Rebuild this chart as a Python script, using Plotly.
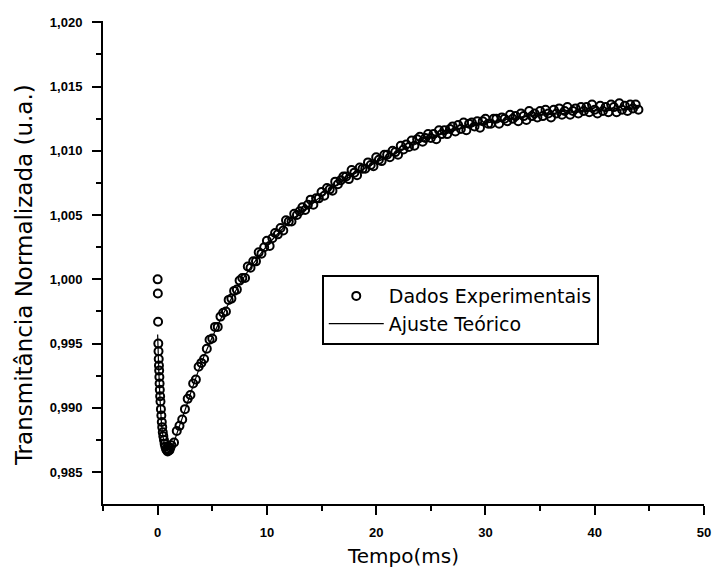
import plotly.graph_objects as go

# Experimental data (time in ms, normalized transmittance)
t_exp = [0.00, 0.02, 0.04, 0.06, 0.08, 0.10, 0.12, 0.14, 0.16, 0.18, 0.20, 0.23, 0.26,
         0.30, 0.34, 0.38, 0.42, 0.47, 0.52, 0.58, 0.64, 0.70, 0.77, 0.84, 0.92, 1.00, 1.08, 1.16,
         1.25, 1.50, 1.75, 2.00, 2.25, 2.50, 2.75, 3.00,
         3.25, 3.50, 3.75, 4.00, 4.25, 4.50, 4.75, 5.00,
         5.25, 5.50, 5.75, 6.00, 6.25, 6.50, 6.75, 7.00,
         7.25, 7.50, 7.75, 8.00, 8.25, 8.50, 8.75, 9.00,
         9.25, 9.50, 9.75, 10.00, 10.25, 10.50, 10.75, 11.00,
         11.25, 11.50, 11.75, 12.00, 12.25, 12.50, 12.75, 13.00,
         13.25, 13.50, 13.75, 14.00, 14.25, 14.50, 14.75, 15.00,
         15.25, 15.50, 15.75, 16.00, 16.25, 16.50, 16.75, 17.00,
         17.25, 17.50, 17.75, 18.00, 18.25, 18.50, 18.75, 19.00,
         19.25, 19.50, 19.75, 20.00, 20.25, 20.50, 20.75, 21.00,
         21.25, 21.50, 21.75, 22.00, 22.25, 22.50, 22.75, 23.00,
         23.25, 23.50, 23.75, 24.00, 24.25, 24.50, 24.75, 25.00,
         25.25, 25.50, 25.75, 26.00, 26.25, 26.50, 26.75, 27.00,
         27.25, 27.50, 27.75, 28.00, 28.25, 28.50, 28.75, 29.00,
         29.25, 29.50, 29.75, 30.00, 30.25, 30.50, 30.75, 31.00,
         31.25, 31.50, 31.75, 32.00, 32.25, 32.50, 32.75, 33.00,
         33.25, 33.50, 33.75, 34.00, 34.25, 34.50, 34.75, 35.00,
         35.25, 35.50, 35.75, 36.00, 36.25, 36.50, 36.75, 37.00,
         37.25, 37.50, 37.75, 38.00, 38.25, 38.50, 38.75, 39.00,
         39.25, 39.50, 39.75, 40.00, 40.25, 40.50, 40.75, 41.00,
         41.25, 41.50, 41.75, 42.00, 42.25, 42.50, 42.75, 43.00,
         43.25, 43.50, 43.75, 44.00]
y_exp = [1.0000, 0.9989, 0.9967, 0.9950, 0.9944, 0.9938, 0.9933, 0.9929, 0.9924, 0.9919,
         0.9914, 0.9909, 0.9905, 0.9899, 0.9894, 0.9889, 0.9885, 0.9881, 0.9878, 0.9875,
         0.9872, 0.9870, 0.9868, 0.9867, 0.9866, 0.9867, 0.9867, 0.9869,
         0.9871, 0.9873, 0.9882, 0.9886, 0.9891, 0.9899, 0.9907, 0.9910,
         0.9919, 0.9922, 0.9932, 0.9935, 0.9938, 0.9946, 0.9953, 0.9954,
         0.9963, 0.9963, 0.9971, 0.9974, 0.9975, 0.9984, 0.9985, 0.9991,
         0.9992, 0.9999, 1.0001, 1.0001, 1.0010, 1.0009, 1.0014, 1.0014,
         1.0021, 1.0020, 1.0025, 1.0030, 1.0026, 1.0032, 1.0036, 1.0035,
         1.0040, 1.0038, 1.0046, 1.0045, 1.0045, 1.0051, 1.0050, 1.0053,
         1.0056, 1.0054, 1.0058, 1.0062, 1.0058, 1.0063, 1.0063, 1.0068,
         1.0065, 1.0071, 1.0070, 1.0069, 1.0076, 1.0074, 1.0077, 1.0080,
         1.0080, 1.0078, 1.0085, 1.0083, 1.0081, 1.0087, 1.0086, 1.0086,
         1.0091, 1.0089, 1.0088, 1.0095, 1.0093, 1.0092, 1.0097, 1.0097,
         1.0095, 1.0100, 1.0099, 1.0097, 1.0104, 1.0101, 1.0105, 1.0103,
         1.0108, 1.0104, 1.0109, 1.0111, 1.0107, 1.0110, 1.0113, 1.0110,
         1.0113, 1.0109, 1.0116, 1.0113, 1.0116, 1.0113, 1.0117, 1.0119,
         1.0115, 1.0120, 1.0117, 1.0122, 1.0116, 1.0121, 1.0122, 1.0119,
         1.0123, 1.0118, 1.0123, 1.0125, 1.0121, 1.0121, 1.0125, 1.0125,
         1.0121, 1.0126, 1.0125, 1.0123, 1.0128, 1.0125, 1.0127, 1.0123,
         1.0129, 1.0127, 1.0124, 1.0131, 1.0127, 1.0129, 1.0126, 1.0131,
         1.0127, 1.0132, 1.0129, 1.0126, 1.0132, 1.0129, 1.0133, 1.0128,
         1.0131, 1.0134, 1.0128, 1.0131, 1.0133, 1.0129, 1.0134, 1.0131,
         1.0134, 1.0130, 1.0136, 1.0132, 1.0129, 1.0135, 1.0131, 1.0134,
         1.0130, 1.0136, 1.0134, 1.0130, 1.0137, 1.0132, 1.0135, 1.0131,
         1.0136, 1.0133, 1.0136, 1.0132]

# Theoretical fit curve
t_fit = [0, 0.1, 0.2, 0.3, 0.4, 0.6, 0.8, 1.0, 1.3, 1.6, 2, 2.5, 3, 4, 5, 6, 7, 8, 9, 10,
         12, 14, 16, 18, 20, 22, 25, 28, 31, 34, 37, 40, 43, 44]
y_fit = [0.9957, 0.9930, 0.9910, 0.9895, 0.9884, 0.9873, 0.9869, 0.9868, 0.9870, 0.9876,
         0.9886, 0.9898, 0.9911, 0.9935, 0.9955, 0.9973, 0.9989, 1.0003, 1.0015, 1.0026,
         1.0044, 1.0058, 1.0071, 1.0082, 1.0091, 1.0099, 1.0110, 1.0118, 1.0123, 1.0127,
         1.0129, 1.0131, 1.0132, 1.0133]

x_ticks = [0, 10, 20, 30, 40, 50]
y_ticks = [0.985, 0.990, 0.995, 1.000, 1.005, 1.010, 1.015, 1.020]

TICKFONT = "Liberation Sans Narrow, Liberation Sans, Arial, sans-serif"
TEXTFONT = "DejaVu Sans, Liberation Sans, sans-serif"

fig = go.Figure()
fig.add_trace(go.Scatter(
    x=t_exp, y=y_exp, mode="markers", name="Dados Experimentais",
    marker=dict(symbol="circle-open", size=8, color="black", line=dict(width=2, color="black")),
))
fig.add_trace(go.Scatter(
    x=t_fit, y=y_fit, mode="lines", name="Ajuste Teórico",
    line=dict(color="black", width=1.2, shape="spline"),
))

fig.update_layout(
    width=714, height=582,
    margin=dict(l=103, r=10, t=21, b=78),
    paper_bgcolor="white", plot_bgcolor="white",
    separators=",.",
    font=dict(family=TEXTFONT, color="black"),
    showlegend=True,
    legend=dict(
        x=0.364, y=0.474, xanchor="left", yanchor="top",
        bordercolor="black", borderwidth=2, bgcolor="white",
        font=dict(family=TEXTFONT, size=19, color="black"),
        itemwidth=55, tracegroupgap=0,
    ),
    xaxis=dict(
        range=[-5, 50], tickvals=x_ticks, tickformat="d", automargin=False,
        showgrid=False, zeroline=False, showline=True, linecolor="black", linewidth=2,
        ticks="outside", ticklen=9, tickwidth=2, tickcolor="black",
        minor=dict(dtick=5, tick0=0, ticks="outside", ticklen=5, tickwidth=2, tickcolor="black"),
        tickfont=dict(family=TICKFONT, size=13, weight="bold"),
        ticklabelstandoff=6,
        title=dict(text="Tempo(ms)", font=dict(family=TEXTFONT, size=20), standoff=10),
    ),
    yaxis=dict(
        range=[0.98252, 1.0201], tickvals=y_ticks, tickformat=".3f", automargin=False,
        showgrid=False, zeroline=False, showline=True, linecolor="black", linewidth=2,
        ticks="outside", ticklen=9, tickwidth=2, tickcolor="black",
        minor=dict(dtick=0.0025, tick0=0.985, ticks="outside", ticklen=5, tickwidth=2, tickcolor="black"),
        tickfont=dict(family=TICKFONT, size=13, weight="bold"),
        ticklabelstandoff=7,
    ),
    annotations=[dict(
        text="Transmitância Normalizada (u.a.)", textangle=-90,
        xref="paper", yref="paper", x=0, y=0.474, xanchor="center", yanchor="middle",
        xshift=-79, showarrow=False, font=dict(family=TEXTFONT, size=23, color="black"),
    )],
)

fig.write_html("out.html")
